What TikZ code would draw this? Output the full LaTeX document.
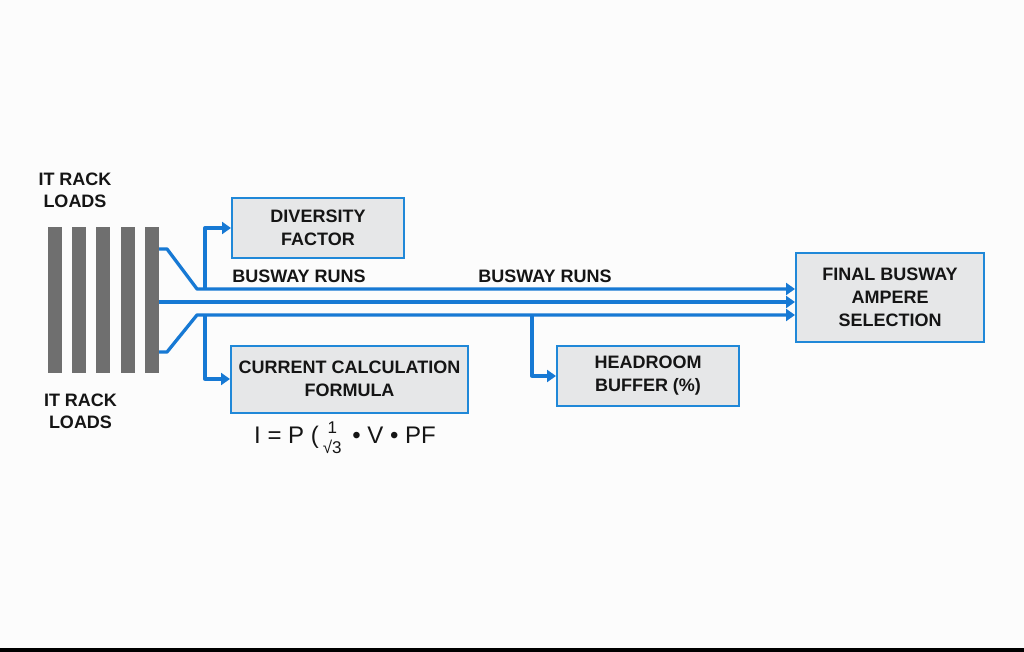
\documentclass[tikz,border=0pt]{standalone}
\usepackage{fontspec}
\setmainfont{Liberation Sans}
\usetikzlibrary{arrows.meta}
\definecolor{busblue}{HTML}{1779D4}
\definecolor{boxblue}{HTML}{2088D8}
\definecolor{boxfill}{HTML}{E6E7E8}
\definecolor{rackgray}{HTML}{6F6F6F}
\definecolor{txt}{HTML}{151515}
\begin{document}
\begin{tikzpicture}[x=1pt,y=-1pt,
  bus/.style={draw=busblue,line width=3.3pt,line join=round},
  tip/.style={-{Triangle[length=9pt,width=12pt]}},
  infobox/.style={draw=boxblue,line width=2pt,fill=boxfill,inner sep=0pt,align=center,
     text=txt,font=\fontsize{18}{23}\selectfont\bfseries},
  lbl/.style={text=txt,font=\fontsize{18}{22}\selectfont\bfseries,align=center,inner sep=0pt},
  rack/.style={fill=rackgray,minimum width=14pt,minimum height=146pt,inner sep=0pt}]
\fill[white!98!gray] (0,0) rectangle (1024,652);
\useasboundingbox (0,0) rectangle (1024,652);
\fill[black] (0,648) rectangle (1024,652);
% racks
\node[rack] (rack1) at (55,300) {};
\node[rack] (rack2) at (79,300) {};
\node[rack] (rack3) at (103,300) {};
\node[rack] (rack4) at (127.5,300) {};
\node[rack] (rack5) at (152,300) {};
\node[lbl] (toplbl) at (75,190) {IT RACK\\LOADS};
\node[lbl] (botlbl) at (80.5,411) {IT RACK\\LOADS};
% boxes
\node[infobox,minimum width=172pt,minimum height=60pt] (div) at (318,228) {DIVERSITY\\FACTOR};
\node[infobox,minimum width=237pt,minimum height=67pt] (calc) at (349.5,379) {CURRENT CALCULATION\\FORMULA};
\node[infobox,minimum width=182pt,minimum height=60pt] (head) at (648,376) {HEADROOM\\BUFFER (\%)};
\node[infobox,minimum width=188pt,minimum height=89pt] (final) at (890,297.5) {FINAL BUSWAY\\AMPERE\\SELECTION};
\node[lbl] (bus1) at (299,276) {BUSWAY RUNS};
\node[lbl] (bus2) at (545,276) {BUSWAY RUNS};
\node[text=txt,inner sep=0pt,font=\fontsize{24}{24}\selectfont] (formula) at (345,440)
  {I = P (\,\raisebox{-1pt}{\fontsize{17}{17}\selectfont\begin{tabular}[c]{@{}c@{}}1\\[1pt]√3\end{tabular}}\, • V • PF};
% junction coordinates
\coordinate (ta) at (167,249);
\coordinate (tb) at (197,289);
\coordinate (la) at (167,352);
\coordinate (lb) at (197,315);
\coordinate (mid) at (160,302);
\coordinate (upbr) at (205,289);
\coordinate (lowbr) at (205,315);
\coordinate (hbr) at (532,315);
% bus lines
\draw[bus,tip] (rack5.east |- ta) -- (ta) -- (tb) -- (final.west |- tb);
\draw[bus,tip] (rack5.east |- mid) -- (final.west |- mid);
\draw[bus,tip] (rack5.east |- la) -- (la) -- (lb) -- (final.west |- lb);
% branches
\draw[bus,tip] (upbr) |- (div.west);
\draw[bus,tip] (lowbr) |- (calc.west);
\draw[bus,tip] (hbr) |- (head.west);
\end{tikzpicture}
\end{document}
